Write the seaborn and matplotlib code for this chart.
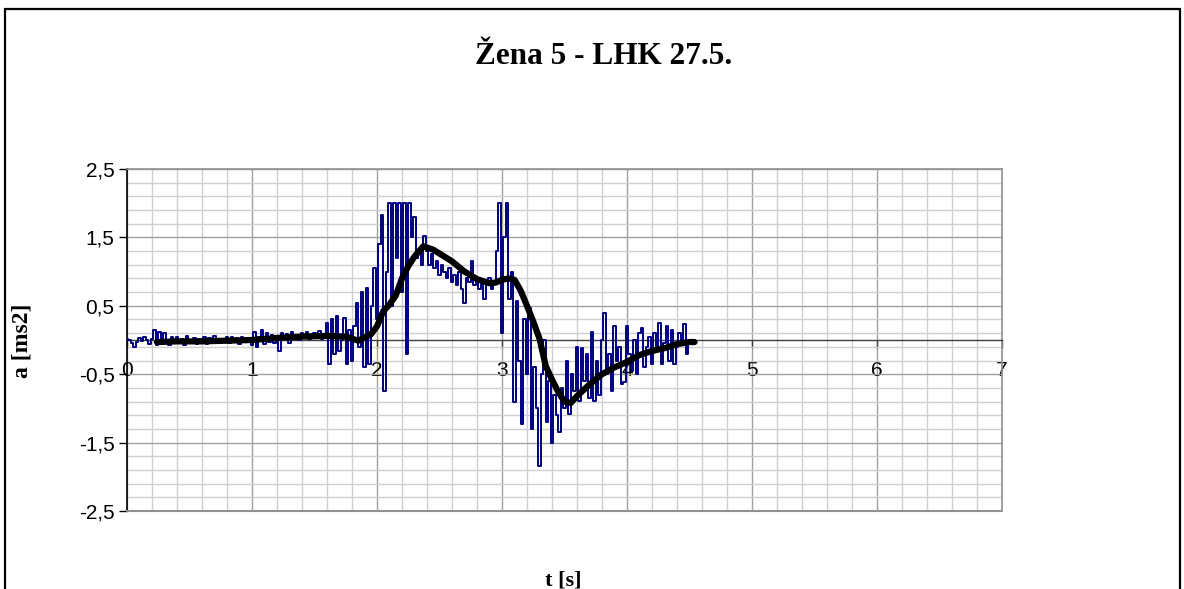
import numpy as np
import pandas as pd
import matplotlib
matplotlib.use("Agg")
import matplotlib.pyplot as plt
import matplotlib.patches as mpatches
from matplotlib.ticker import FixedLocator
import seaborn as sns

# ---------------- data ----------------
title = "Žena 5 - LHK 27.5."
x_label = "t [s]"
y_label = "a [ms2]"
x_ticks = [0, 1, 2, 3, 4, 5, 6, 7]
y_ticks = [-2.5, -1.5, -0.5, 0.5, 1.5, 2.5]
y_tick_labels = ["-2,5", "-1,5", "-0,5", "0,5", "1,5", "2,5"]

# raw acceleration signal, sampled every 0.02 s from t = 0
raw_dt = 0.02
raw_a = [
    0.02, 0.0, -0.05, -0.1, -0.03, 0.03, -0.02, 0.05, 0.0, -0.06,
    0.02, 0.15, -0.08, 0.12, -0.05, 0.1, 0.0, -0.07, 0.05, -0.03,
    0.04, -0.05, 0.02, -0.08, 0.06, 0.0, -0.04, 0.03, -0.06, 0.02,
    0.0, 0.05, -0.06, 0.03, -0.02, 0.06, -0.05, 0.02, 0.0, -0.03,
    0.04, -0.04, 0.05, -0.02, 0.03, -0.06, 0.04, -0.03, 0.02, 0.0,
    -0.08, 0.12, -0.1, 0.05, 0.14, -0.06, 0.1, -0.03, 0.08, -0.04,
    0.06, -0.16, 0.1, 0.02, 0.09, -0.04, 0.12, 0.03, 0.07, 0.0,
    0.1, 0.05, 0.12, 0.02, 0.08, 0.1, 0.04, 0.13, 0.02, 0.08,
    0.25, -0.35, 0.3, -0.2, 0.35, -0.16, 0.0, 0.32, -0.35, 0.15,
    -0.3, 0.2, 0.54, -0.1, 0.7, -0.4, 0.76, -0.35, 0.5, 1.05,
    0.3, 1.4, 1.83, -0.75, 1.0, 2.0, 0.5, 2.0, 1.2, 2.0,
    0.7, 2.0, -0.2, 2.0, 1.5, 1.8, 1.2, 1.3, 1.1, 1.52,
    1.3, 1.1, 1.25, 1.05, 1.15, 0.95, 1.1, 1.0, 0.9, 1.05,
    0.85, 0.95, 0.8, 1.0, 0.75, 0.54, 0.9, 0.85, 1.15, 0.8,
    0.9, 0.75, 0.85, 0.6, 0.8, 0.9, 0.75, 0.85, 1.3, 2.0,
    0.1, 1.5, 2.0, 0.6, 1.0, -0.9, 0.57, -0.3, -1.23, 0.3,
    -0.5, 0.47, -1.3, -0.4, -1.0, -1.84, -0.5, 0.0, -1.2, -0.6,
    -1.5, -0.8, -1.1, -1.35, -0.7, -1.0, -0.3, -1.08, -0.5, -0.75,
    -0.1, -0.89, -0.11, -0.6, -0.2, -0.85, 0.11, -0.89, -0.3, -0.8,
    0.0, 0.39, -0.5, -0.2, -0.75, 0.2, -0.3, -0.1, -0.65, -0.62,
    0.2, -0.2, -0.45, 0.0, -0.5, 0.1, 0.18, -0.4, -0.1, 0.05,
    -0.35, 0.1, -0.15, 0.25, -0.35, -0.05, 0.2, -0.3, 0.15, -0.35,
    -0.1, 0.1, -0.05, 0.23, -0.2,
    0.0,
]
raw_t = [round(i * raw_dt, 2) for i in range(len(raw_a))]

# smoothed (moving average) signal
avg_t = [0.24, 0.4, 0.6, 0.8, 1.0, 1.2, 1.4, 1.6, 1.75, 1.85,
         1.95, 2.0, 2.05, 2.1, 2.15, 2.2, 2.25, 2.3, 2.37, 2.45,
         2.53, 2.6, 2.7, 2.8, 2.9, 2.95, 3.0, 3.05, 3.1, 3.15,
         3.2, 3.25, 3.3, 3.35, 3.4, 3.45, 3.5, 3.55, 3.6, 3.7,
         3.8, 3.9, 4.0, 4.1, 4.2, 4.3, 4.4, 4.5, 4.54]
avg_a = [-0.03, -0.02, -0.02, -0.01, 0.0, 0.03, 0.05, 0.06, 0.05, -0.01,
         0.08, 0.2, 0.42, 0.52, 0.65, 0.9, 1.08, 1.22, 1.37, 1.32,
         1.23, 1.15, 1.0, 0.89, 0.83, 0.84, 0.88, 0.9, 0.88, 0.72,
         0.5, 0.27, 0.02, -0.38, -0.58, -0.76, -0.9, -0.92, -0.82, -0.65,
         -0.5, -0.4, -0.32, -0.22, -0.16, -0.12, -0.06, -0.03, -0.03]

raw_df = pd.DataFrame({"t": raw_t, "a": raw_a})
avg_df = pd.DataFrame({"t": avg_t, "a": avg_a})

# ---------------- figure ----------------
sns.set_theme(style="white")
plt.rcParams["font.family"] = ["Liberation Sans", "DejaVu Sans"]
plt.rcParams["text.color"] = "black"
plt.rcParams["axes.labelcolor"] = "black"
plt.rcParams["xtick.color"] = "black"
plt.rcParams["ytick.color"] = "black"

W, H = 1184, 589
fig = plt.figure(figsize=(W / 100, H / 100), dpi=100)
fig.patch.set_facecolor("white")
ax = fig.add_axes([127 / W, 1 - 511 / H, (1002 - 127) / W, (511 - 169) / H])
ax.set_facecolor("white")

sns.lineplot(data=raw_df, x="t", y="a", ax=ax, color="#000080", linewidth=1.4,
             estimator=None, sort=False, drawstyle="steps-mid", zorder=3)
sns.lineplot(data=avg_df, x="t", y="a", ax=ax, color="black", linewidth=4.5,
             estimator=None, sort=False, zorder=4, solid_capstyle="round")

ax.set_xlim(0, 7)
ax.set_ylim(-2.5, 2.5)

ax.xaxis.set_major_locator(FixedLocator(x_ticks))
ax.xaxis.set_minor_locator(FixedLocator(np.arange(0, 7.01, 0.2)))
ax.yaxis.set_major_locator(FixedLocator(y_ticks))
ax.yaxis.set_minor_locator(FixedLocator(np.arange(-2.5, 2.51, 0.2)))
ax.set_xticklabels([str(v) for v in x_ticks])
ax.set_yticklabels(y_tick_labels)

ax.grid(which="major", color="#a0a0a0", linewidth=1.0, zorder=0)
ax.grid(which="minor", color="#cfcfcf", linewidth=1.0, zorder=0)
ax.set_axisbelow(True)

ax.spines["bottom"].set_position(("data", 0))
ax.spines["bottom"].set_color("#404040")
ax.spines["bottom"].set_linewidth(1.0)
ax.spines["left"].set_color("black")
ax.spines["left"].set_linewidth(1.2)
for s in ("top", "right"):
    ax.spines[s].set_color("#909090")
    ax.spines[s].set_linewidth(1.2)
ax.axhline(-2.5, color="#909090", linewidth=1.5, clip_on=False, zorder=5)

ax.tick_params(axis="x", which="major", direction="out", length=6, width=1,
               color="#404040", pad=9, labelsize=15, labelcolor="black")
ax.tick_params(axis="y", which="major", direction="out", length=6, width=1,
               color="black", pad=3, labelsize=15, labelcolor="black")
ax.tick_params(which="minor", length=0)
ax.xaxis.set_ticks_position("bottom")
ax.yaxis.set_ticks_position("left")

ax.set_xlabel("")
ax.set_ylabel("")

serif = ["Liberation Serif", "DejaVu Serif"]
fig.text(604 / W, 1 - 56 / H, title, ha="center", va="center", color="black",
         fontsize=22.5, fontweight="bold", family=serif)
fig.text(563 / W, 1 - 580 / H, x_label, ha="center", va="center", color="black",
         fontsize=16, fontweight="bold", family=serif)
fig.text(22 / W, 1 - 341 / H, y_label, ha="center", va="center", rotation=90,
         color="black", fontsize=17, fontweight="bold", family=serif)

# outer chart border
fig.patches.append(mpatches.Rectangle((5 / W, -0.05), (1180 - 5) / W, 1.05 - 9 / H,
                                      transform=fig.transFigure, fill=False,
                                      edgecolor="black", linewidth=1.6))

fig.savefig("out.png", dpi=100, facecolor="white")
